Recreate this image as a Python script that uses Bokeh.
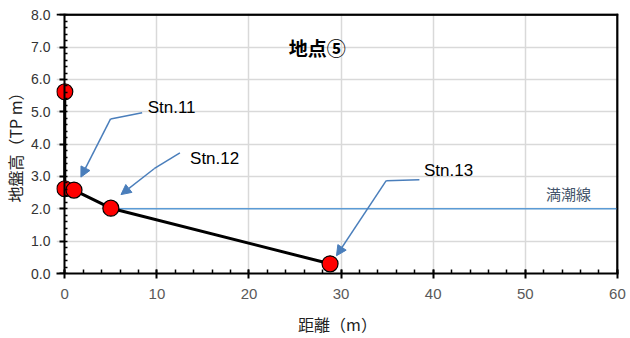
from bokeh.plotting import figure
from bokeh.models import (Range1d, Arrow, NormalHead, SingleIntervalTicker,
                          NumeralTickFormatter, LinearAxis)
from bokeh.embed import file_html
from bokeh.resources import INLINE
from bokeh.core.properties import value

# ground profile (distance m, elevation TP m)
dist = [0.0, 0.0, 1.0, 5.0, 28.8]
elev = [5.62, 2.62, 2.58, 2.02, 0.30]

# high tide line
tide_x = [5.0, 60.0]
tide_y = [2.0, 2.0]
tide_label = "満潮線"

# station annotations: label, text pos, leader polyline (x, y), arrow tip
stn_names = ["Stn.11", "Stn.12", "Stn.13"]
stn_text_x = [9.0, 13.6, 39.0]
stn_text_y = [5.12, 3.55, 3.2]
stn_lead_x = [[8.4, 4.97], [12.5, 9.7], [38.5, 34.9]]
stn_lead_y = [[4.97, 4.78], [3.73, 3.24], [2.9, 2.87]]
stn_tip_x = [1.75, 6.1, 29.5]
stn_tip_y = [2.98, 2.44, 0.55]

title_text = "地点⑤"
x_label = "距離（m）"
y_label = "地盤高（TP m）"

# axis limits
X_MIN, X_MAX = 0, 60
Y_MIN, Y_MAX = 0, 8

JP = "Noto Sans CJK JP"
LAT = "Liberation Sans"
ARROW_C = "#4A7EBB"

p = figure(width=630, height=338, output_backend="svg", toolbar_location=None,
           x_range=Range1d(X_MIN - 0.9, X_MAX + 0.12), y_range=Range1d(Y_MIN, Y_MAX + 0.04),
           min_border_left=51, min_border_right=12, min_border_top=13, min_border_bottom=65)
p.outline_line_color = None
p.background_fill_color = "white"

p.xaxis.ticker = SingleIntervalTicker(interval=10, num_minor_ticks=5)
p.yaxis.ticker = SingleIntervalTicker(interval=1, num_minor_ticks=5)
p.xgrid.grid_line_color = "#d9d9d9"
p.ygrid.grid_line_color = "#d9d9d9"
p.xgrid.grid_line_width = 1.5
p.ygrid.grid_line_width = 1.5

# x axis
xa = p.xaxis[0]
xa.axis_line_color = "black"
xa.axis_line_width = 2
xa.major_tick_line_color = "black"
xa.major_tick_line_width = 2
xa.minor_tick_line_color = "black"
xa.minor_tick_line_width = 1.5
xa.major_tick_in = 4
xa.major_tick_out = 5
xa.minor_tick_in = 4
xa.minor_tick_out = 0
xa.major_label_text_font = LAT
xa.major_label_text_font_size = "15px"
xa.major_label_text_color = "#595959"
xa.major_label_standoff = 10
xa.axis_label = x_label
xa.axis_label_text_font = JP
xa.axis_label_text_font_size = "16px"
xa.axis_label_text_font_style = "normal"
xa.axis_label_text_color = "#222222"
xa.axis_label_standoff = 10

# y axis: labels only (at frame edge)
ya = p.yaxis[0]
ya.axis_line_color = None
ya.major_tick_line_color = None
ya.minor_tick_line_color = None
ya.major_tick_in = 0
ya.major_tick_out = 0
ya.minor_tick_in = 0
ya.minor_tick_out = 0
ya.major_label_text_font = LAT
ya.major_label_text_font_size = "14px"
ya.major_label_text_color = "#333333"
ya.formatter = NumeralTickFormatter(format="0.0")
ya.major_label_standoff = 6
ya.axis_label = y_label
ya.axis_label_text_font = JP
ya.axis_label_text_font_size = "16px"
ya.axis_label_text_font_style = "normal"
ya.axis_label_text_color = "#222222"
ya.axis_label_standoff = 1

# y axis line and ticks at x = 0
ya2 = LinearAxis(fixed_location=X_MIN, ticker=SingleIntervalTicker(interval=1, num_minor_ticks=5),
                 axis_line_color="black", axis_line_width=2,
                 major_tick_line_color="black", major_tick_line_width=2,
                 minor_tick_line_color="black", minor_tick_line_width=1.5,
                 major_tick_in=0, major_tick_out=5, minor_tick_in=3, minor_tick_out=0,
                 major_label_text_font_size="1px", major_label_text_alpha=0,
                 major_label_standoff=0)
p.add_layout(ya2, "left")

# plain frame lines on the right (x = 60) and top (y = 8)
def frame_axis(loc):
    return LinearAxis(fixed_location=loc, ticker=SingleIntervalTicker(interval=100),
                      axis_line_color="black", axis_line_width=2,
                      major_tick_line_color=None, minor_tick_line_color=None,
                      major_tick_in=0, major_tick_out=0, minor_tick_in=0, minor_tick_out=0,
                      major_label_text_font_size="1px", major_label_text_alpha=0,
                      major_label_standoff=0)

p.add_layout(frame_axis(X_MAX), "right")
p.add_layout(frame_axis(Y_MAX), "above")
p.line([X_MIN, X_MAX, X_MAX], [Y_MAX, Y_MAX, Y_MIN], line_color="black", line_width=2)

# high tide line
p.line(tide_x, tide_y, line_color="#5B9BD5", line_width=1.5)
p.text(x=[54.7], y=[2.47], text=[tide_label], text_font=value(JP), text_font_size="15px",
       text_color="#44546A", text_align="center", text_baseline="middle")

# profile
p.line(dist, elev, line_color="black", line_width=3)
p.scatter(dist, elev, size=16, fill_color="#FF0000", line_color="black", line_width=1.2)

# station annotations
for i, name in enumerate(stn_names):
    lx = stn_lead_x[i]
    ly = stn_lead_y[i]
    p.line(lx, ly, line_color=ARROW_C, line_width=1.5)
    p.add_layout(Arrow(x_start=lx[-1], y_start=ly[-1], x_end=stn_tip_x[i], y_end=stn_tip_y[i],
                       line_color=ARROW_C, line_width=1.5,
                       end=NormalHead(size=10, fill_color=ARROW_C, line_color=ARROW_C)))
p.text(x=stn_text_x, y=stn_text_y, text=stn_names, text_font=value(LAT), text_font_size="17px",
       text_color="black", text_align="left", text_baseline="middle")

# title
p.text(x=[27.4], y=[6.98], text=[title_text], text_font=value(JP), text_font_size="19px",
       text_font_style="bold", text_color="black", text_align="center", text_baseline="middle")

open("out.html", "w").write(file_html(p, INLINE))
